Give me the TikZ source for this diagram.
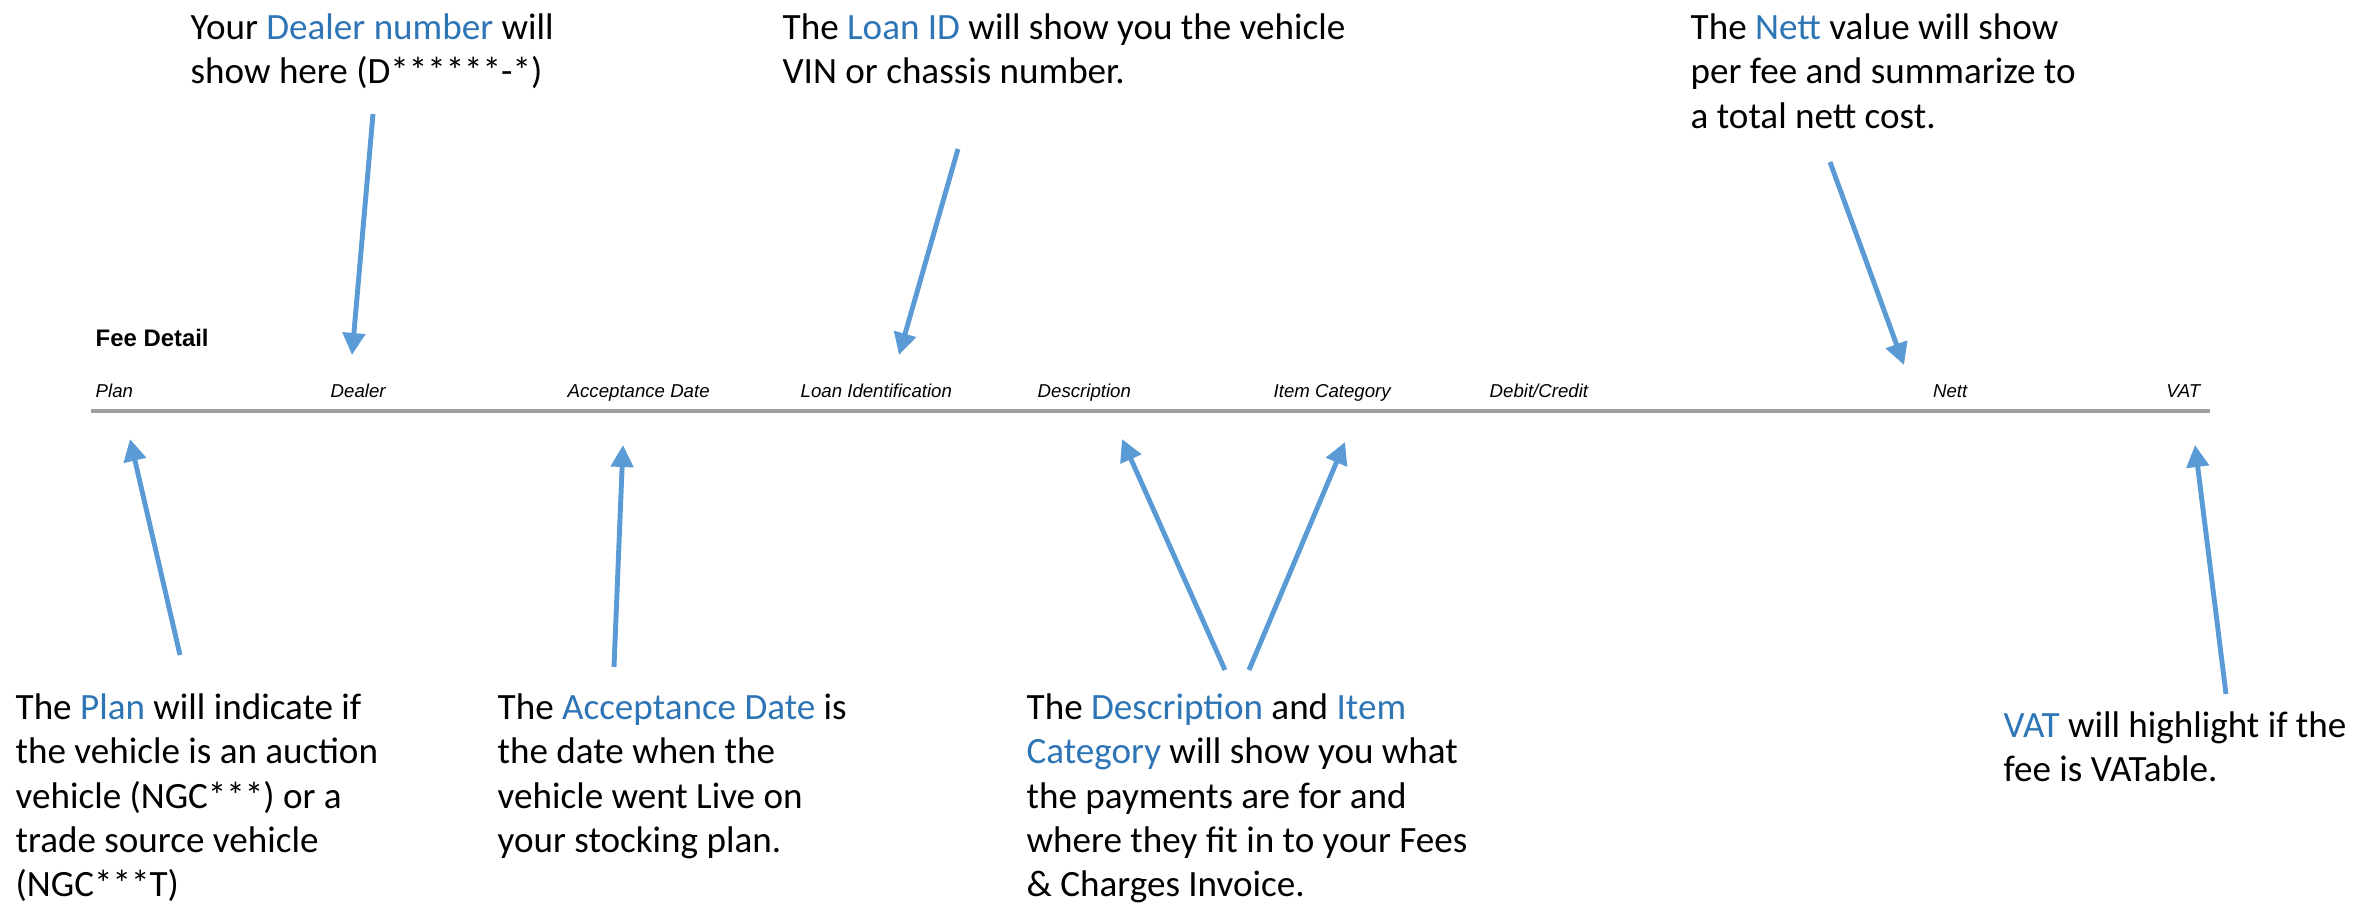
\documentclass[tikz,border=0pt]{standalone}
\usepackage{fontspec}
\setmainfont{Carlito}
\newfontfamily\arialfont{Liberation Sans}
\usetikzlibrary{arrows.meta}
\definecolor{noteblue}{HTML}{2E75B6}
\definecolor{arrowblue}{HTML}{5B9BD5}
\newcommand{\hl}[1]{\textcolor{noteblue}{#1}}
\tikzset{
  note/.style={anchor=north west, align=left, inner sep=0pt, font=\fontsize{10.55}{12.6}\selectfont},
  colhead/.style={inner sep=0pt, font=\arialfont\itshape\fontsize{5.3}{6}\selectfont},
  pointer/.style={draw=arrowblue, line width=1.4pt, -{Triangle[length=0.22cm,width=0.22cm]}},
}
\begin{document}
\begin{tikzpicture}[x=0.01cm, y=-0.01cm]
\useasboundingbox (0,0) rectangle (2377,903);

% table header
\node[anchor=base west, inner sep=0pt, font=\arialfont\bfseries\fontsize{6.8}{8}\selectfont] (feedetail) at (95,346) {Fee Detail};
\node[colhead, anchor=base west] (plan) at (95,397) {Plan};
\node[colhead, anchor=base west] (dealer) at (330,397) {Dealer};
\node[colhead, anchor=base west] (accdate) at (567,397) {Acceptance Date};
\node[colhead, anchor=base west] (loanid) at (800,397) {Loan Identification};
\node[colhead, anchor=base west] (descr) at (1037,397) {Description};
\node[colhead, anchor=base west] (itemcat) at (1273,397) {Item Category};
\node[colhead, anchor=base west] (debcred) at (1489,397) {Debit/Credit};
\node[colhead, anchor=base east] (nett) at (1968,397) {Nett};
\node[colhead, anchor=base east] (vat) at (2201,397) {VAT};
\draw[line width=1.4pt, gray!75] (91,411) -- (2210,411);

% notes above
\node[note] (dealernote) at (190,13) {Your \hl{Dealer number} will\\show here (D******-*)};
\node[note] (loannote) at (782,13) {The \hl{Loan ID} will show you the vehicle\\VIN or chassis number.};
\node[note] (nettnote) at (1690,13) {The \hl{Nett} value will show\\per fee and summarize to\\a total nett cost.};

% notes below
\node[note] (plannote) at (15,693) {The \hl{Plan} will indicate if\\the vehicle is an auction\\vehicle (NGC***) or a\\trade source vehicle\\(NGC***T)};
\node[note] (accnote) at (497,693) {The \hl{Acceptance Date} is\\the date when the\\vehicle went Live on\\your stocking plan.};
\node[note] (descnote) at (1026,693) {The \hl{Description} and \hl{Item}\\\hl{Category} will show you what\\the payments are for and\\where they fit in to your Fees\\\& Charges Invoice.};
\node[note] (vatnote) at (2003,711) {\hl{VAT} will highlight if the\\fee is VATable.};

% arrow ends
\coordinate (dealerfrom) at (373,114);  \coordinate (dealerto) at (352,355);
\coordinate (loanfrom) at (958,149);    \coordinate (loanto) at (899,355);
\coordinate (nettfrom) at (1830,162);   \coordinate (nettto) at (1904,365);
\coordinate (planfrom) at (180,655);    \coordinate (planto) at (130,439);
\coordinate (accfrom) at (614,667);     \coordinate (accto) at (623,445);
\coordinate (descfrom) at (1225,670);   \coordinate (descto) at (1122,439);
\coordinate (itemfrom) at (1249,670);   \coordinate (itemto) at (1345,442);
\coordinate (vatfrom) at (2226,694);    \coordinate (vatto) at (2195,445);

\foreach \a in {dealer,loan,nett,plan,acc,desc,item,vat}
  \draw[pointer] (\a from) -- (\a to);
\end{tikzpicture}
\end{document}
